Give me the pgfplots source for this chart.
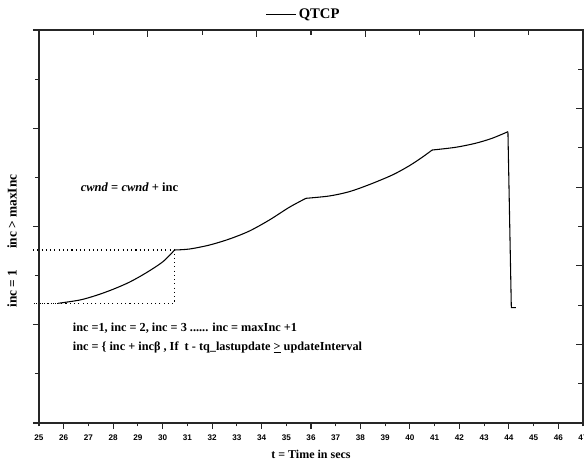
\documentclass[border=0pt]{standalone}
\usepackage{pgfplots}
\pgfplotsset{compat=1.18}
\usepackage{fontspec}
\setmainfont{Liberation Serif}
\newfontfamily\arialfont{Liberation Sans}
\begin{document}
\begin{tikzpicture}
\begin{axis}[
  scale only axis, width=408pt, height=294.75pt,
  xmin=25, xmax=47, ymin=0, ymax=8,
  clip=false,
  axis line style={black!85, line width=0.9pt},
  every tick/.style={black!85, line width=0.8pt},
  tick align=outside,
  xtick pos=left, ytick pos=left,
  xtick={26,28,...,46},
  extra x ticks={25,27,...,47},
  extra x tick style={major tick length=2.6pt, tick label style={yshift=-1.9pt}},
  major tick length=4.5pt, minor tick length=3pt,
  ytick={0,2,...,8}, minor ytick={1,3,5,7},
  yticklabels={},
  /pgf/number format/assume math mode=true,
  xticklabel style={font=\arialfont\bfseries\fontsize{6.1}{7}\selectfont, yshift=-0.6pt},
  legend style={at={(0.487,1.04)}, anchor=center, draw=none, fill=none,
    font=\bfseries\fontsize{11}{13}\selectfont, inner sep=1pt},
  legend image code/.code={\draw[#1] (0pt,0pt) -- (22pt,0pt);},
]
\addplot[black, line width=0.8pt, smooth, tension=0.5] coordinates {
(25.778,2.437) (26.653,2.504) (27.327,2.600) (27.996,2.722) (28.669,2.870)
(29.343,3.060) (30.012,3.284) (30.484,3.522)
};
\addlegendentry{QTCP}
\addplot[black, line width=0.8pt, smooth, tension=0.5, forget plot] coordinates {
(30.484,3.522) (31.089,3.542) (31.895,3.623)
(32.702,3.746) (33.508,3.908) (34.315,4.132) (35.121,4.391) (35.794,4.574)
};
\addplot[black, line width=0.8pt, smooth, tension=0.5, forget plot] coordinates {
(35.794,4.574) (36.734,4.621) (37.540,4.708) (38.347,4.851) (39.286,5.048) (39.960,5.232)
(40.496,5.409) (40.899,5.557)
};
\addplot[black, line width=0.8pt, smooth, tension=0.5, forget plot] coordinates {
(40.899,5.557) (41.843,5.612) (42.649,5.694) (43.319,5.795) (43.964,5.930)
};
\addplot[black, line width=0.8pt, forget plot] coordinates {
(43.964,5.930) (44.101,2.347) (44.286,2.347)
};
\addplot[black, line width=0.8pt, dash pattern=on 0.8pt off 2.4pt, forget plot] coordinates {(24.76,3.522) (30.484,3.522) (30.484,2.437) (24.76,2.437) (25.778,2.437)};
\node[anchor=west, font=\bfseries\fontsize{9.4}{11}\selectfont] at (axis cs:26.50,4.80) {\textit{cwnd} = \textit{cwnd} + inc};
\node[anchor=west, font=\bfseries\fontsize{9.2}{11}\selectfont] at (axis cs:26.18,1.94) {inc =1, inc = 2, inc = 3 ...... inc = maxInc +1};
\node[anchor=west, font=\bfseries\fontsize{9.2}{11}\selectfont] at (axis cs:26.18,1.53) {inc = \{ inc + incβ , If\ \ t - tq\_lastupdate \underline{>} updateInterval};
\node[rotate=90, font=\bfseries\fontsize{10}{12}\selectfont] at (axis cs:23.91,2.74) {inc = 1};
\node[rotate=90, font=\bfseries\fontsize{10}{12}\selectfont] at (axis cs:23.91,4.30) {inc > maxInc};
\node[font=\bfseries\fontsize{9}{11}\selectfont] at (axis description cs:0.5,0) [yshift=-23.25pt] {t = Time in secs};
\end{axis}
\begin{axis}[
  scale only axis, width=408pt, height=294.75pt,
  xmin=0, xmax=10, ymin=0, ymax=10,
  axis line style={black!85, line width=0.9pt},
  every tick/.style={black!85, line width=0.8pt},
  tick align=inside,
  xtick pos=right, ytick pos=right,
  xtick={0,2,...,10}, minor xtick={1,3,...,9},
  ytick={0,2,...,10}, minor ytick={1,3,...,9},
  major tick length=5pt, minor tick length=3.5pt,
  xticklabels={}, yticklabels={},
]
\end{axis}
\pgfresetboundingbox
\path[use as bounding box] (-29.25pt,-29.25pt) rectangle (408.75pt,317.25pt);
\end{tikzpicture}
\end{document}
